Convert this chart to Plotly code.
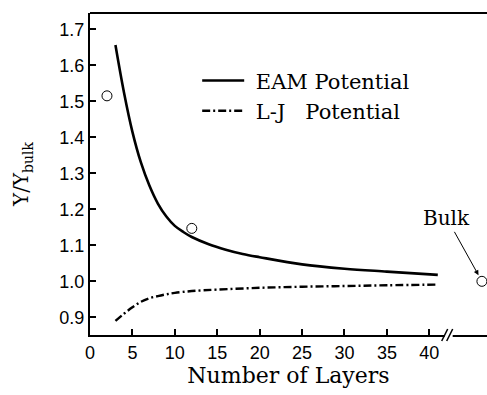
import plotly.graph_objects as go

# ---- data ----
eam_layers = [3, 4, 5, 6, 7, 8, 9, 10, 11, 12, 14, 16, 18, 20, 25, 30, 35, 41]
eam_ratio = [1.656, 1.525, 1.415, 1.330, 1.266, 1.216, 1.180, 1.154, 1.137, 1.123,
             1.103, 1.088, 1.076, 1.067, 1.047, 1.035, 1.027, 1.018]

lj_layers = [3, 4, 5, 6, 7, 8, 9, 10, 12, 15, 20, 25, 30, 35, 41]
lj_ratio = [0.890, 0.910, 0.928, 0.943, 0.953, 0.959, 0.964, 0.968, 0.973, 0.977,
            0.982, 0.985, 0.987, 0.989, 0.991]

sim_layers = [2, 12]
sim_ratio = [1.515, 1.147]

bulk_pos = [46.2]
bulk_ratio = [1.0]

x_ticks = [0, 5, 10, 15, 20, 25, 30, 35, 40]
y_ticks = [0.9, 1.0, 1.1, 1.2, 1.3, 1.4, 1.5, 1.6, 1.7]
break_x = 42.4

serif = "DejaVu Serif"
sans = "Liberation Sans, Arial"

fig = go.Figure()
fig.add_trace(go.Scatter(x=eam_layers, y=eam_ratio, mode="lines", name="\u00a0EAM Potential",
                         line=dict(color="black", width=2.6, shape="spline", smoothing=1.0)))
fig.add_trace(go.Scatter(x=lj_layers, y=lj_ratio, mode="lines",
                         name="\u00a0L-J\u00a0\u00a0\u00a0Potential",
                         line=dict(color="black", width=2.4, dash="8px,3px,2px,3px",
                                   shape="spline", smoothing=1.0)))
fig.add_trace(go.Scatter(x=sim_layers + bulk_pos, y=sim_ratio + bulk_ratio, mode="markers",
                         showlegend=False, cliponaxis=False,
                         marker=dict(symbol="circle-open", size=10, color="black",
                                     line=dict(width=1))))

fig.add_annotation(x=bulk_pos[0], y=bulk_ratio[0], text="Bulk", showarrow=True,
                   ax=-35, ay=-63, arrowhead=2, arrowsize=1, arrowwidth=1,
                   arrowcolor="black", standoff=7,
                   font=dict(family=serif, size=20, color="black"))

# axis break marks on the x axis
fig.add_shape(type="rect", xref="x", yref="paper", xsizemode="pixel", ysizemode="pixel",
              xanchor=break_x, yanchor=0, x0=-5, x1=3, y0=-3, y1=3,
              fillcolor="white", line=dict(width=0), layer="above")
for off in (-5, 0):
    fig.add_shape(type="line", xref="x", yref="paper", xsizemode="pixel", ysizemode="pixel",
                  xanchor=break_x, yanchor=0, x0=off - 3, x1=off + 3, y0=-6, y1=6,
                  line=dict(color="black", width=1.5), layer="above")

fig.update_layout(
    width=487, height=395,
    margin=dict(l=90, r=0, t=13, b=60, autoexpand=False),
    paper_bgcolor="white", plot_bgcolor="white",
    showlegend=True,
    legend=dict(x=0.27, y=0.853, xanchor="left", yanchor="top",
                bgcolor="rgba(0,0,0,0)", font=dict(family=serif, size=21, color="black"),
                itemwidth=42, tracegroupgap=0),
    xaxis=dict(range=[0, 46.8], tickvals=x_ticks, ticks="inside", ticklen=6, tickwidth=2,
               tickcolor="black", showline=True, linecolor="black", linewidth=2,
               mirror=False, showgrid=False, zeroline=False,
               tickfont=dict(family=sans, size=18, color="black"),
               title=dict(text="Number of Layers", font=dict(family=serif, size=22, color="black"),
                          standoff=6)),
    yaxis=dict(range=[0.851, 1.745], tickvals=y_ticks, tickformat=".1f", ticks="inside",
               ticklen=6, tickwidth=2, tickcolor="black", showline=True, linecolor="black",
               linewidth=2, showgrid=False, zeroline=False,
               tickfont=dict(family=sans, size=18, color="black"),
               title=dict(text="Y/Y<sub>bulk</sub>", font=dict(family=serif, size=20, color="black"),
                          standoff=25)),
)
# top border line
fig.add_shape(type="line", xref="paper", yref="paper", x0=0, x1=1, y0=1, y1=1,
              line=dict(color="black", width=2))

fig.write_html("out.html", config={"displayModeBar": False},
               post_script="document.body.style.margin='0';document.body.style.overflow='hidden';")
